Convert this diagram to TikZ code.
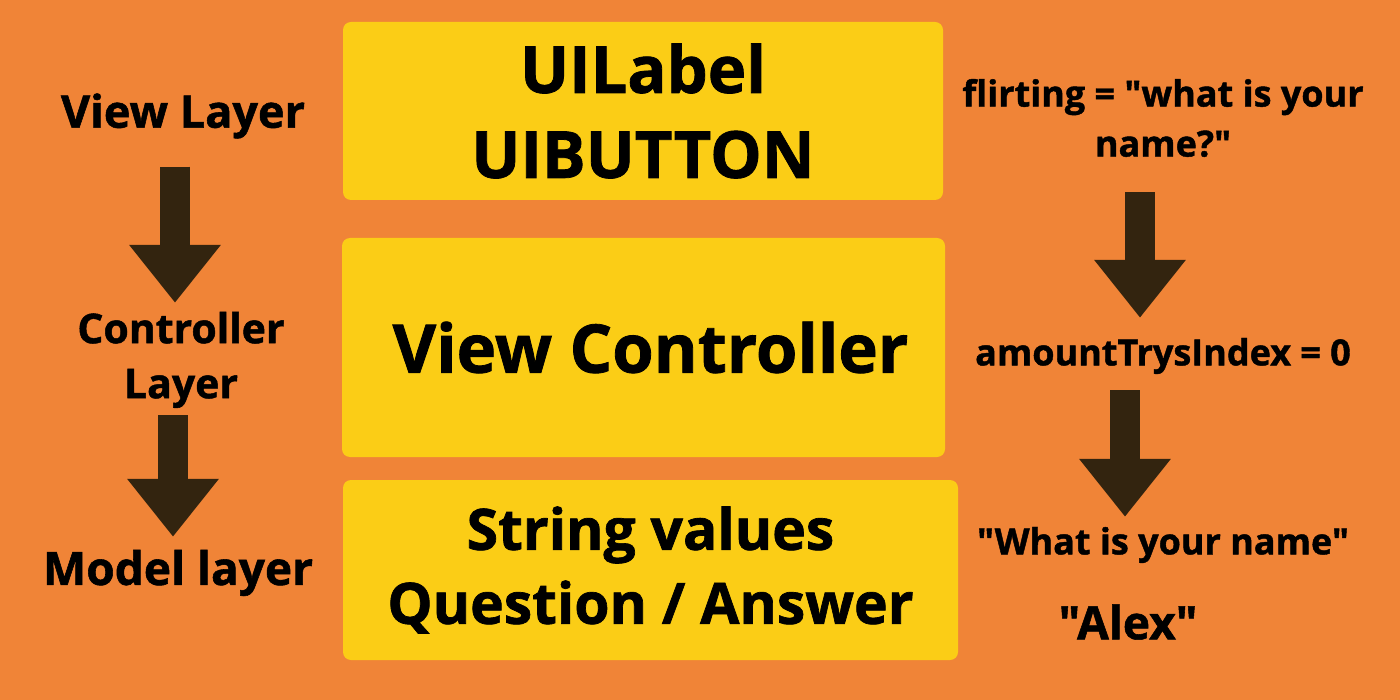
\documentclass[tikz,border=0pt]{standalone}
\usepackage{fontspec}
\setmainfont{Open Sans}[Ligatures=TeXOff, BoldFeatures={FakeBold=1.2}]
\usetikzlibrary{arrows.meta,positioning}
\definecolor{bgorange}{HTML}{F08437}
\definecolor{noteyellow}{HTML}{FBCD16}
\definecolor{inkbrown}{HTML}{33240F}
\tikzset{
  layer/.style={font=\bfseries\fontsize{41}{55}\selectfont, text=black, align=center, inner sep=0pt},
  note/.style={font=\bfseries\fontsize{36}{50}\selectfont, text=black, align=center, inner sep=0pt},
  card/.style={rectangle, rounded corners=8pt, fill=noteyellow, text=black, align=center, inner sep=0pt},
  sketch/.style={line width=30pt, draw=inkbrown, -{Triangle[width=88pt,length=58pt]}}
}
\begin{document}
\begin{tikzpicture}[x=1pt,y=-1pt]
\fill[bgorange] (0,0) rectangle (1400,700);
\useasboundingbox (0,0) rectangle (1400,700);

% yellow cards
\node (ui)[card, minimum width=600pt, minimum height=178pt, font=\bfseries\fontsize{65}{85}\selectfont] at (643,111) {UILabel\\UIBUTTON};
\node (vc)[card, minimum width=603pt, minimum height=219pt, font=\bfseries\fontsize{67}{80}\selectfont] at (643.5,347.5) {\hspace*{14pt}View Controller};
\node (model)[card, minimum width=615pt, minimum height=180pt, font=\bfseries\fontsize{57}{74}\selectfont] at (650.5,570) {String values\\Question / Answer};

% layers on the left
\node (viewl)[layer, font=\bfseries\fontsize{45}{55}\selectfont] at (183,116) {View Layer};
\node (ctrll)[layer] at (181,360) {Controller\\Layer};
\node (modell)[layer, font=\bfseries\fontsize{46}{55}\selectfont] at (178,573) {Model layer};
\draw [sketch, shorten <=28pt, shorten >=9pt] ([xshift=-8pt]viewl.south) -- ([xshift=-6pt]ctrll.north);
\draw [sketch, shorten <=7pt, shorten >=13pt] ([xshift=-8pt]ctrll.south) -- ([xshift=-5pt]modell.north);

% values on the right
\node (flirt)[note] at (1163,118) {flirting = "what is your\\name?"};
\node (trys)[note] at (1163,356) {amountTrysIndex = 0};
\node (what)[note] at (1163,545) {"What is your name"};
\node (alex)[note, font=\bfseries\fontsize{46}{50}\selectfont] at (1128,622) {"Alex"};
\draw [sketch, shorten <=35pt, shorten >=20pt] ([xshift=-23pt]flirt.south) -- ([xshift=-23pt]trys.north);
\draw [sketch, shorten <=16pt, shorten >=10pt] ([xshift=-38pt]trys.south) -- ([xshift=-38pt]what.north);

\end{tikzpicture}
\end{document}
